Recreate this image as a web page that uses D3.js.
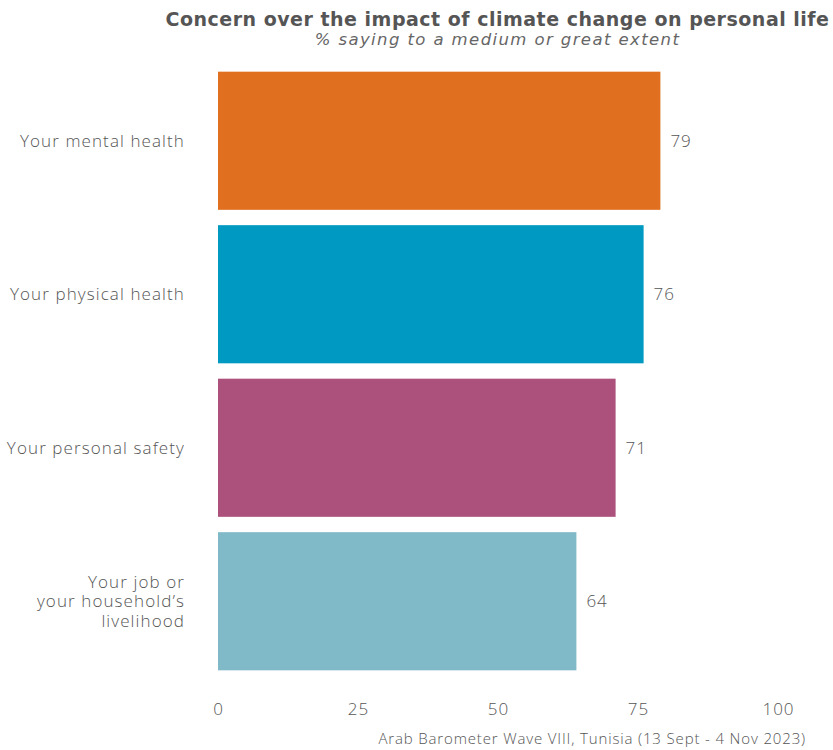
<!DOCTYPE html>
<html><head><meta charset="utf-8">
<script src="https://cdn.jsdelivr.net/npm/d3@7"></script>
<style>
body{margin:0;background:#fff;}
text{font-family:"Open Sans",sans-serif;fill:#555;font-weight:300;}
</style></head>
<body><svg id="c" width="833" height="750"></svg>
<script>
const categories = ["Your mental health","Your physical health","Your personal safety","Your job or\nyour household’s\nlivelihood"];
const values = [79,76,71,64];
const colors = ["#E07020","#0099C2","#AB517C","#80B9C8"];
const ticks = [0,25,50,75,100];
const title = "Concern over the impact of climate change on personal life";
const subtitle = "% saying to a medium or great extent";
const caption = "Arab Barometer Wave VIII, Tunisia (13 Sept - 4 Nov 2023)";

const svg = d3.select("#c");
const x = d3.scaleLinear().domain([0,100]).range([218,778]);
const y = d3.scaleBand().domain(categories).range([64,678]).paddingInner(0.1).paddingOuter(0.05);

svg.append("text").attr("x",497.5).attr("y",26).attr("text-anchor","middle")
  .style("font-family","DejaVu Sans").style("font-size","19px").style("font-weight","700")
  .style("letter-spacing","0.5px").attr("fill","#555").text(title);
svg.append("text").attr("x",497.5).attr("y",45).attr("text-anchor","middle")
  .style("font-family","DejaVu Sans").style("font-size","16.5px").style("font-style","italic")
  .style("font-weight","400").style("letter-spacing","1.4px").style("fill","#666").text(subtitle);

svg.selectAll("rect.bar").data(values).join("rect").attr("class","bar")
  .attr("x",x(0)).attr("y",(d,i)=>y(categories[i]))
  .attr("width",d=>x(d)-x(0)).attr("height",y.bandwidth())
  .attr("fill",(d,i)=>colors[i]);

svg.selectAll("text.val").data(values).join("text").attr("class","val")
  .attr("x",d=>x(d)+10).attr("y",(d,i)=>y(categories[i])+y.bandwidth()/2)
  .attr("dy","0.35em").style("font-size","17px").style("letter-spacing","1px").text(d=>d);

categories.forEach((c,i)=>{
  const lines = c.split("\n");
  const cy = y(c)+y.bandwidth()/2;
  const lh = 19.5;
  lines.forEach((l,j)=>{
    svg.append("text").attr("text-anchor","end").style("font-size","17px").style("letter-spacing","1.1px")
      .attr("x",185).attr("y",cy+(j-(lines.length-1)/2)*lh).attr("dy","0.35em").text(l);
  });
});

const ax = svg.append("g").attr("transform","translate(0,700)")
  .call(d3.axisBottom(x).tickValues(ticks).tickSize(0).tickPadding(3));
ax.select(".domain").remove();
ax.selectAll("text").style("font-size","17px").style("font-family","Open Sans").style("font-weight","300")
  .style("letter-spacing","1px").attr("fill","#555");

svg.append("text").attr("x",806).attr("y",744).attr("text-anchor","end")
  .style("font-size","15px").style("letter-spacing","0.85px").text(caption);
</script></body></html>
